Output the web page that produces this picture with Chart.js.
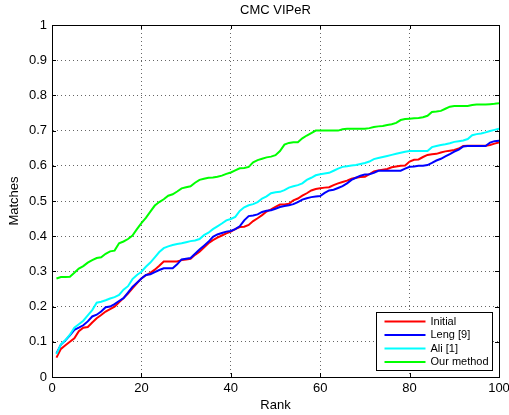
<!DOCTYPE html>
<html>
<head>
<meta charset="utf-8">
<script src="https://cdn.jsdelivr.net/npm/chart.js@4.4.0/dist/chart.umd.min.js"></script>
<style>
  body { margin: 0; background: #fff; }
</style>
</head>
<body>
<canvas id="cmc" width="509" height="415"></canvas>
<script>
// CMC curves, one value per rank
const ranks = [
  1, 2, 3, 4, 5, 6, 7, 8, 9, 10, 11, 12, 13, 14, 15, 16, 17, 18, 19, 20,
  21, 22, 23, 24, 25, 26, 27, 28, 29, 30, 31, 32, 33, 34, 35, 36, 37, 38, 39, 40,
  41, 42, 43, 44, 45, 46, 47, 48, 49, 50, 51, 52, 53, 54, 55, 56, 57, 58, 59, 60,
  61, 62, 63, 64, 65, 66, 67, 68, 69, 70, 71, 72, 73, 74, 75, 76, 77, 78, 79, 80,
  81, 82, 83, 84, 85, 86, 87, 88, 89, 90, 91, 92, 93, 94, 95, 96, 97, 98, 99, 100
];

const initial = [
  0.055, 0.080, 0.090, 0.100, 0.110, 0.130, 0.140, 0.142, 0.155, 0.167,
  0.176, 0.186, 0.193, 0.200, 0.212, 0.224, 0.237, 0.252, 0.266, 0.280,
  0.289, 0.296, 0.305, 0.316, 0.328, 0.328, 0.328, 0.328, 0.332, 0.334,
  0.336, 0.347, 0.356, 0.368, 0.380, 0.389, 0.396, 0.402, 0.408, 0.413,
  0.420, 0.426, 0.427, 0.432, 0.443, 0.451, 0.460, 0.470, 0.476, 0.483,
  0.490, 0.490, 0.492, 0.502, 0.507, 0.515, 0.522, 0.530, 0.534, 0.536,
  0.538, 0.539, 0.545, 0.550, 0.554, 0.558, 0.563, 0.566, 0.568, 0.569,
  0.576, 0.584, 0.587, 0.589, 0.591, 0.596, 0.598, 0.600, 0.601, 0.612,
  0.617, 0.618, 0.625, 0.631, 0.633, 0.634, 0.638, 0.641, 0.643, 0.645,
  0.649, 0.656, 0.657, 0.657, 0.657, 0.657, 0.657, 0.659, 0.663, 0.666
];

const leng = [
  0.067, 0.092, 0.104, 0.118, 0.134, 0.140, 0.147, 0.158, 0.172, 0.177,
  0.186, 0.198, 0.200, 0.207, 0.216, 0.224, 0.240, 0.256, 0.268, 0.280,
  0.290, 0.292, 0.298, 0.304, 0.309, 0.309, 0.309, 0.320, 0.334, 0.336,
  0.338, 0.350, 0.362, 0.373, 0.384, 0.398, 0.405, 0.409, 0.413, 0.415,
  0.420, 0.428, 0.445, 0.457, 0.459, 0.462, 0.469, 0.472, 0.474, 0.478,
  0.483, 0.486, 0.488, 0.491, 0.497, 0.504, 0.508, 0.511, 0.513, 0.514,
  0.523, 0.530, 0.532, 0.537, 0.542, 0.550, 0.560, 0.566, 0.572, 0.575,
  0.576, 0.580, 0.586, 0.586, 0.586, 0.586, 0.586, 0.586, 0.592, 0.597,
  0.598, 0.600, 0.600, 0.602, 0.608, 0.615, 0.620, 0.627, 0.633, 0.640,
  0.646, 0.655, 0.656, 0.656, 0.656, 0.656, 0.656, 0.666, 0.670, 0.671
];

const ali = [
  0.065, 0.093, 0.105, 0.120, 0.140, 0.150, 0.160, 0.175, 0.190, 0.211,
  0.214, 0.218, 0.223, 0.227, 0.233, 0.248, 0.258, 0.278, 0.290, 0.299,
  0.313, 0.325, 0.340, 0.355, 0.366, 0.371, 0.375, 0.378, 0.380, 0.383,
  0.386, 0.388, 0.392, 0.403, 0.410, 0.420, 0.428, 0.436, 0.445, 0.449,
  0.455, 0.472, 0.482, 0.488, 0.491, 0.497, 0.507, 0.513, 0.522, 0.525,
  0.526, 0.531, 0.538, 0.542, 0.545, 0.550, 0.560, 0.566, 0.573, 0.576,
  0.578, 0.580, 0.586, 0.592, 0.597, 0.599, 0.601, 0.602, 0.605, 0.608,
  0.612, 0.619, 0.622, 0.625, 0.628, 0.631, 0.634, 0.637, 0.640, 0.642,
  0.642, 0.642, 0.642, 0.642, 0.653, 0.656, 0.659, 0.661, 0.664, 0.668,
  0.670, 0.672, 0.676, 0.687, 0.690, 0.692, 0.695, 0.699, 0.702, 0.705
];

const ours = [
  0.280, 0.284, 0.284, 0.285, 0.296, 0.308, 0.315, 0.325, 0.332, 0.338,
  0.340, 0.350, 0.357, 0.359, 0.380, 0.385, 0.392, 0.402, 0.420, 0.437,
  0.452, 0.470, 0.487, 0.497, 0.505, 0.515, 0.519, 0.527, 0.536, 0.539,
  0.542, 0.552, 0.560, 0.563, 0.566, 0.567, 0.569, 0.572, 0.577, 0.581,
  0.587, 0.593, 0.594, 0.597, 0.610, 0.616, 0.620, 0.624, 0.626, 0.630,
  0.642, 0.660, 0.665, 0.667, 0.667, 0.678, 0.686, 0.693, 0.700, 0.700,
  0.700, 0.700, 0.700, 0.700, 0.704, 0.705, 0.705, 0.705, 0.705, 0.705,
  0.707, 0.710, 0.712, 0.713, 0.716, 0.718, 0.722, 0.730, 0.733, 0.734,
  0.735, 0.736, 0.738, 0.742, 0.753, 0.754, 0.756, 0.762, 0.768, 0.770,
  0.770, 0.770, 0.770, 0.773, 0.774, 0.774, 0.774, 0.775, 0.776, 0.778
];

const xTicks = [0, 20, 40, 60, 80, 100];
const yTicks = [0, 0.1, 0.2, 0.3, 0.4, 0.5, 0.6, 0.7, 0.8, 0.9, 1];

const chartTitle = 'CMC VIPeR';
const FONT = 'Liberation Sans, Arial, Helvetica, sans-serif';

function points(values) {
  return ranks.map((r, i) => ({ x: r, y: values[i] }));
}

function series(label, values, color, order) {
  return {
    label: label,
    data: points(values),
    borderColor: color,
    backgroundColor: color,
    borderWidth: 2,
    pointRadius: 0,
    tension: 0,
    fill: false,
    order: order
  };
}

// matlab style box, inward ticks, title over the axes and legend in the lower right
const matlabFrame = {
  id: 'matlabFrame',
  afterDatasetsDraw(chart) {
    const ctx = chart.ctx;
    const a = chart.chartArea;
    const sx = chart.scales.x, sy = chart.scales.y;
    ctx.save();
    ctx.strokeStyle = '#000';
    ctx.lineWidth = 1;
    ctx.beginPath();
    ctx.rect(Math.round(a.left) + 0.5, Math.round(a.top) + 0.5,
      Math.round(a.right - a.left), Math.round(a.bottom - a.top));
    const len = 4;
    xTicks.forEach(v => {
      const px = Math.round(sx.getPixelForValue(v)) + 0.5;
      ctx.moveTo(px, a.bottom); ctx.lineTo(px, a.bottom - len);
      ctx.moveTo(px, a.top); ctx.lineTo(px, a.top + len);
    });
    yTicks.forEach(v => {
      const py = Math.round(sy.getPixelForValue(v)) + 0.5;
      ctx.moveTo(a.left, py); ctx.lineTo(a.left + len, py);
      ctx.moveTo(a.right, py); ctx.lineTo(a.right - len, py);
    });
    ctx.stroke();

    ctx.fillStyle = '#000';
    ctx.font = '13px ' + FONT;
    ctx.textAlign = 'center';
    ctx.textBaseline = 'middle';
    ctx.fillText(chartTitle, (a.left + a.right) / 2, a.top - 15);
    ctx.restore();
  },
  afterDraw(chart) {
    const ctx = chart.ctx;
    const a = chart.chartArea;
    const w = 116, h = 58;
    const x0 = Math.round(a.right - 7 - w) + 0.5;
    const y0 = Math.round(a.bottom - 7 - h) + 0.5;
    ctx.save();
    ctx.fillStyle = '#fff';
    ctx.fillRect(x0, y0, w, h);
    ctx.strokeStyle = '#000';
    ctx.lineWidth = 1;
    ctx.strokeRect(x0, y0, w, h);
    ctx.font = '11px ' + FONT;
    ctx.textBaseline = 'middle';
    ctx.textAlign = 'left';
    chart.data.datasets.forEach((ds, i) => {
      const y = y0 + 9 + i * 13.5;
      ctx.strokeStyle = ds.borderColor;
      ctx.lineWidth = 2;
      ctx.beginPath();
      ctx.moveTo(x0 + 8, y);
      ctx.lineTo(x0 + 49, y);
      ctx.stroke();
      ctx.fillStyle = '#000';
      ctx.fillText(ds.label, x0 + 54, y);
    });
    ctx.restore();
  }
};

new Chart(document.getElementById('cmc'), {
  type: 'line',
  data: {
    datasets: [
      series('Initial', initial, '#ff0000', 4),
      series('Leng [9]', leng, '#0000ff', 3),
      series('Ali [1]', ali, '#00ffff', 2),
      series('Our method', ours, '#00ff00', 1)
    ]
  },
  options: {
    responsive: false,
    animation: false,
    layout: { padding: { left: 0, right: 10, top: 25, bottom: 0 } },
    plugins: {
      legend: { display: false },
      tooltip: { enabled: false },
      title: { display: false }
    },
    scales: {
      x: {
        type: 'linear',
        min: 0,
        max: 100,
        afterBuildTicks: s => { s.ticks = xTicks.map(v => ({ value: v })); },
        afterFit: s => { s.height = 38; s.paddingLeft = 0; s.paddingRight = 0; },
        ticks: {
          color: '#000',
          font: { family: FONT, size: 13 },
          padding: 4,
          maxRotation: 0,
          autoSkip: false
        },
        grid: { color: '#666', lineWidth: 1, drawTicks: false },
        border: { display: true, color: '#000', width: 1, dash: [1, 3] },
        title: {
          display: true,
          text: 'Rank',
          color: '#000',
          font: { family: FONT, size: 13 },
          padding: { top: 0, bottom: 2 }
        }
      },
      y: {
        type: 'linear',
        min: 0,
        max: 1,
        afterBuildTicks: s => { s.ticks = yTicks.map(v => ({ value: v })); },
        afterFit: s => { s.width = 52; s.paddingTop = 0; s.paddingBottom = 0; },
        ticks: {
          color: '#000',
          font: { family: FONT, size: 13 },
          padding: 5,
          autoSkip: false,
          callback: v => String(v)
        },
        grid: { color: '#666', lineWidth: 1, drawTicks: false },
        border: { display: true, color: '#000', width: 1, dash: [1, 3] },
        title: {
          display: true,
          text: 'Matches',
          color: '#000',
          font: { family: FONT, size: 13 },
          padding: { top: 7, bottom: 0 }
        }
      }
    }
  },
  plugins: [matlabFrame]
});
</script>
</body>
</html>
